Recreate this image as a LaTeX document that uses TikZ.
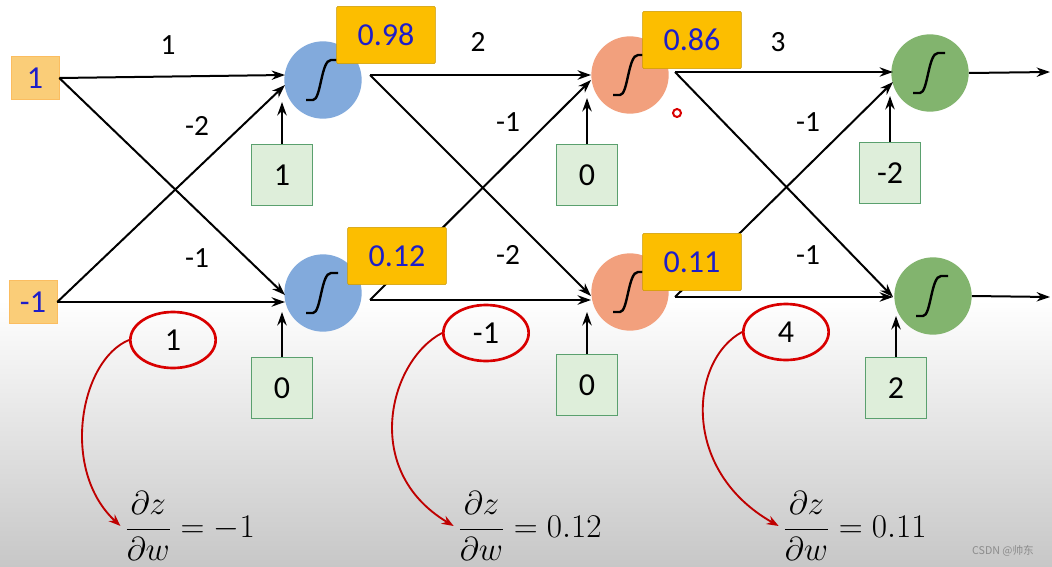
\documentclass[tikz,border=0pt]{standalone}
\usepackage{fontspec}
\setsansfont{Carlito}
\newfontfamily\cjk{Noto Sans CJK SC}
\usetikzlibrary{arrows.meta,shapes.geometric,calc}
\definecolor{inbox}{RGB}{250,205,120}
\definecolor{valbox}{RGB}{252,190,0}
\definecolor{bblue}{RGB}{130,170,220}
\definecolor{borange}{RGB}{242,160,125}
\definecolor{bgreen}{RGB}{130,180,110}
\definecolor{biasf}{RGB}{222,238,218}
\definecolor{biasd}{RGB}{90,160,110}
\definecolor{txtblue}{RGB}{30,30,200}
\tikzset{
 every node/.style={font=\sffamily\fontsize{22}{26}\selectfont},
 inp/.style={fill=inbox,draw=inbox!80!orange,minimum width=36,minimum height=32,inner sep=1pt,text=txtblue,font=\sffamily\fontsize{24}{28}\selectfont},
 val/.style={fill=valbox,draw=valbox!80!black,minimum width=74,minimum height=43,text=txtblue,font=\sffamily\fontsize{24}{28}\selectfont,rounded corners=1pt},
 bias/.style={fill=biasf,draw=biasd,thick,minimum width=46,minimum height=46,font=\sffamily\fontsize{24}{28}\selectfont},
 neu/.style={circle,minimum size=58,inner sep=0},
 wire/.style={line width=1.5pt,-{Stealth[length=10pt,width=7pt]}},
 wl/.style={font=\sffamily\fontsize{22}{26}\selectfont},
 rc/.style={ellipse,draw=red!85!black,line width=2pt,minimum width=64,minimum height=42,font=\sffamily\fontsize{24}{28}\selectfont},
 rarr/.style={red!75!black,line width=1.4pt,-{Stealth[length=9pt]}},
 frm/.style={font=\fontsize{28}{32}\selectfont}
}
\newcommand{\sig}[1]{\draw[line width=1.8pt] ($(#1)+(-17,20)$) -- ($(#1)+(-10,20)$) .. controls ($(#1)+(-2,20)$) and ($(#1)+(-2,-20)$) .. ($(#1)+(8,-20)$) -- ($(#1)+(15,-20)$);}
\begin{document}
\begin{tikzpicture}[x=0.75pt,y=-0.75pt]
\fill[white] (0,0) rectangle (1052,300);
\shade[top color=white,bottom color=black!22] (0,300) rectangle (1052,567);
\useasboundingbox (0,0) rectangle (1052,567);
\node[inp] (i1) at (35,78) {1};
\node[inp] (i2) at (33,302) {-1};
\node[neu,fill=bblue] (a1) at (323,80) {};
\node[neu,fill=bblue] (a2) at (323,293) {};
\node[neu,fill=borange] (b1) at (630,75) {};
\node[neu,fill=borange] (b2) at (630,292) {};
\node[neu,fill=bgreen] (c1) at (930,73) {};
\node[neu,fill=bgreen] (c2) at (933,296) {};
\foreach \n in {a1,a2,b1,b2,c1,c2}{\sig{\n}}
\node[bias] (ba1) at (282,175) {1};
\node[bias] (ba2) at (282,388) {0};
\node[bias] (bb1) at (587,175) {0};
\node[bias] (bb2) at (587,385) {0};
\node[bias] (bc1) at (890,173) {-2};
\node[bias] (bc2) at (896,388) {2};
\draw[wire] (i1.east) -- (285,75);
\draw[wire] (i1.east) -- (285,295);
\draw[wire] (i2.east) -- (285,85);
\draw[wire] (i2.east) -- (285,302);
\node[wl] at (168,45) {1};
\node[wl] at (197,126) {-2};
\node[wl] at (197,258) {-1};
\draw[wire] (370,75) -- (591,75);
\draw[wire] (370,75) -- (591,296);
\draw[wire] (370,300) -- (591,80);
\draw[wire] (370,300) -- (591,300);
\node[wl] at (478,42) {2};
\node[wl] at (508,122) {-1};
\node[wl] at (508,255) {-2};
\draw[wire] (675,72) -- (893,72);
\draw[wire] (675,72) -- (893,297);
\draw[wire] (675,297) -- (893,82);
\draw[wire] (675,297) -- (893,297);
\node[wl] at (778,42) {3};
\node[wl] at (808,122) {-1};
\node[wl] at (808,255) {-1};
\draw[wire] (c1.east) -- (1050,72);
\draw[wire] (c2.east) -- (1050,297);
\draw[wire] (ba1.north) -- (282,102);
\draw[wire] (ba2.north) -- (282,312);
\draw[wire] (bb1.north) -- (587,98);
\draw[wire] (bb2.north) -- (587,312);
\draw[wire] (bc1.north) -- (890,96);
\draw[wire] (bc2.north) -- (896,316);
\node[val] (v1) at (386,35) {0.98};
\node[val] (v2) at (397,256) {0.12};
\node[val] (v3) at (692,40) {0.86};
\node[val] (v4) at (692,262) {0.11};
\node[rc] (r1) at (173,340) {1};
\node[rc] (r2) at (486,333) {-1};
\node[rc] (r3) at (786,332) {4};
\draw[red!85!black,line width=1.5pt] (677,113) circle (4);
\node[frm] (f1) at (190,526) {$\displaystyle\frac{\partial z}{\partial w}=-1$};
\node[frm] (f2) at (530,526) {$\displaystyle\frac{\partial z}{\partial w}=0.12$};
\node[frm] (f3) at (855,526) {$\displaystyle\frac{\partial z}{\partial w}=0.11$};
\draw[rarr] (r1.west) .. controls (80,360) and (60,470) .. (f1.west);
\draw[rarr] (r2.west) .. controls (390,360) and (360,470) .. (f2.west);
\draw[rarr] (r3.west) .. controls (690,360) and (680,470) .. (f3.west);
\node[font=\cjk\fontsize{8}{10}\selectfont,text=black!45] (wm) at (1003,551) {CSDN @帅东};
\end{tikzpicture}
\end{document}
